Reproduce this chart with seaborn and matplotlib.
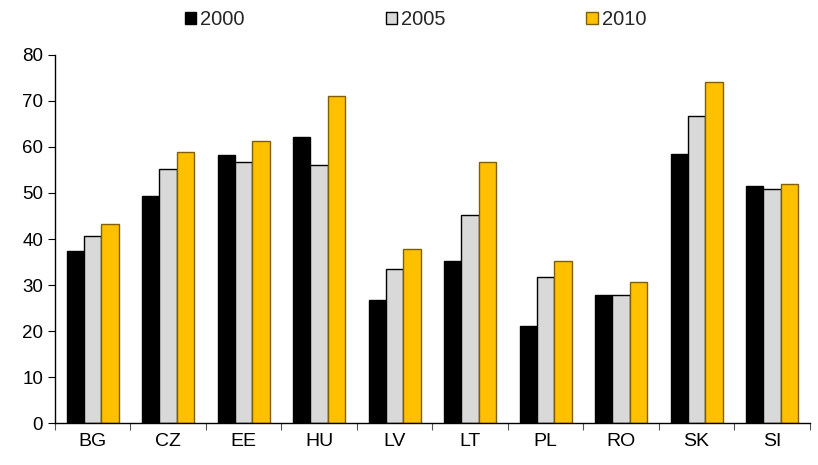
import matplotlib
matplotlib.use("Agg")
import matplotlib.pyplot as plt
import seaborn as sns
import pandas as pd
import numpy as np

# Data
countries = ["BG", "CZ", "EE", "HU", "LV", "LT", "PL", "RO", "SK", "SI"]
years = ["2000", "2005", "2010"]
v2000 = [37.4, 49.4, 58.3, 62.2, 26.7, 35.3, 21.0, 27.8, 58.5, 51.6]
v2005 = [40.7, 55.3, 56.8, 56.0, 33.4, 45.3, 31.7, 27.9, 66.7, 50.8]
v2010 = [43.3, 59.0, 61.3, 71.1, 37.9, 56.8, 35.3, 30.6, 74.0, 52.0]

df = pd.DataFrame({
    "country": countries * 3,
    "year": [years[0]] * 10 + [years[1]] * 10 + [years[2]] * 10,
    "value": v2000 + v2005 + v2010,
})

sns.set_theme(style="white")
plt.rcParams["font.family"] = ["Liberation Sans", "DejaVu Sans"]

colors = ["#000000", "#D9D9D9", "#FFC000"]
edges = ["#000000", "#000000", "#7F6000"]

fig = plt.figure(figsize=(8.18, 4.65), dpi=100)
ax = fig.add_axes([0.067, 0.090, 0.923, 0.792])

sns.barplot(data=df, x="country", y="value", hue="year", palette=colors,
            width=0.69, gap=0, saturation=1, ax=ax, legend=False)

for cont, ec in zip(ax.containers, edges):
    for bar in cont:
        bar.set_edgecolor(ec)
        bar.set_linewidth(1.0)

ax.set_ylim(0, 80)
ax.set_xlim(-0.5, len(countries) - 0.5)
ax.set_yticks(range(0, 81, 10))
ax.set_xlabel("")
ax.set_ylabel("")

# ticks between categories on x axis
ax.set_xticks(np.arange(-0.5, len(countries), 1.0), minor=True)
ax.tick_params(axis="x", which="major", length=0, labelsize=14, pad=7, colors="black")
ax.tick_params(axis="x", which="minor", length=5, width=0.8, color="#555555", direction="out")
ax.tick_params(axis="y", length=5, width=0.8, labelsize=13.5, colors="black", direction="out")
ax.tick_params(axis="y", which="major", left=True)
ax.tick_params(axis="x", which="minor", bottom=True)

for s in ["top", "right"]:
    ax.spines[s].set_visible(False)
for s in ["left", "bottom"]:
    ax.spines[s].set_color("black")
    ax.spines[s].set_linewidth(1.0)

# legend handles with the same fill and edge as the bars
handles = [plt.Rectangle((0, 0), 1, 1, facecolor=c, edgecolor=e, linewidth=1.0)
           for c, e in zip(colors, edges)]
ax.legend(handles, years, loc="upper center", bbox_to_anchor=(0.478, 1.143),
          ncol=3, frameon=False, fontsize=14.5, handlelength=0.55, handleheight=0.55,
          handletextpad=0.2, columnspacing=7.0, borderaxespad=0)

fig.savefig("out.png", dpi=100)
